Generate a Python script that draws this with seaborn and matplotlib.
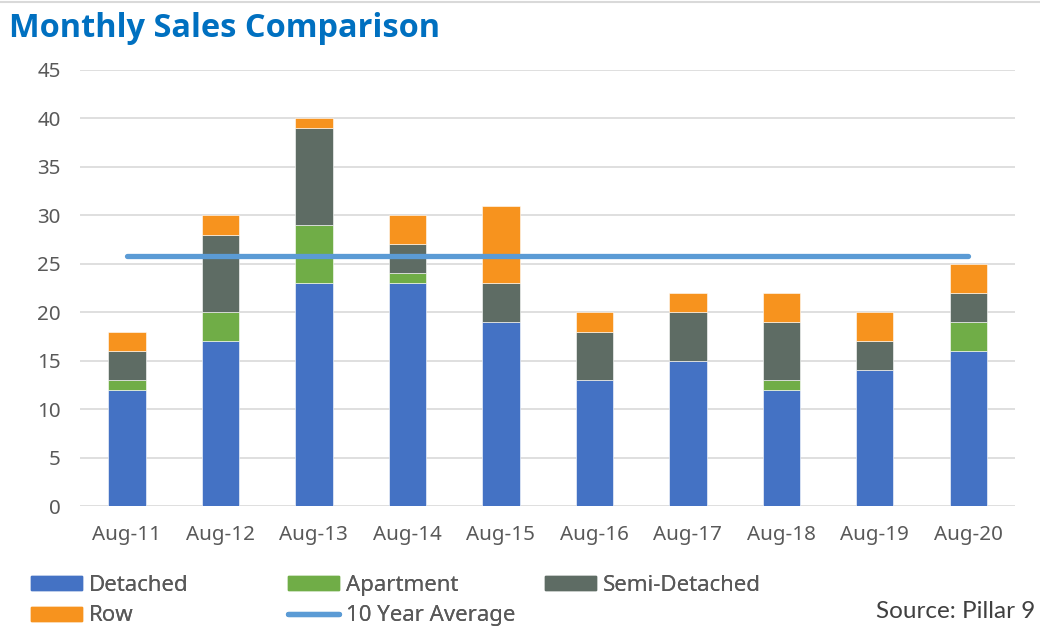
import matplotlib
matplotlib.use("Agg")
import matplotlib.pyplot as plt
import seaborn as sns
import numpy as np
import pandas as pd
from matplotlib.patches import Patch
from matplotlib.lines import Line2D

categories = ["Aug-11", "Aug-12", "Aug-13", "Aug-14", "Aug-15",
              "Aug-16", "Aug-17", "Aug-18", "Aug-19", "Aug-20"]
detached = [12, 17, 23, 23, 19, 13, 15, 12, 14, 16]
apartment = [1, 3, 6, 1, 0, 0, 0, 1, 0, 3]
semi_detached = [3, 8, 10, 3, 4, 5, 5, 6, 3, 3]
row = [2, 2, 1, 3, 8, 2, 2, 3, 3, 3]
ten_year_average = 25.8
yticks = [0, 5, 10, 15, 20, 25, 30, 35, 40, 45]

series = [("Detached", detached, "#4472C4"),
          ("Apartment", apartment, "#70AD47"),
          ("Semi-Detached", semi_detached, "#5E6C64"),
          ("Row", row, "#F7931E")]
avg_color = "#5B9BD5"
avg_label = "10 Year Average"

sns.set_theme(style="white")
plt.rcParams['font.family'] = ['Noto Sans', 'DejaVu Sans']

fig = plt.figure(figsize=(10.4, 6.35), dpi=100)
ax = fig.add_axes([0.077, 0.203, 0.899, 0.687])

bottom = np.zeros(len(categories))
for name, vals, col in series:
    df = pd.DataFrame({"cat": categories, "val": vals})
    sns.barplot(data=df, x="cat", y="val", bottom=bottom, color=col,
                width=0.4, ax=ax, edgecolor="white", linewidth=0.4,
                saturation=1, zorder=3)
    bottom = bottom + np.array(vals)

xpos = np.arange(len(categories))
ax.plot(xpos, [ten_year_average] * len(categories), color=avg_color,
        lw=3.8, solid_capstyle="round", zorder=4)

ax.set_xlim(-0.5, len(categories) - 0.5)
ax.set_ylim(0, 45)
ax.set_yticks(yticks)
ax.set_yticklabels([str(t) for t in yticks])
ax.grid(axis="y", color="#D9D9D9", lw=1.2, zorder=0)
ax.set_axisbelow(True)
for s in ax.spines.values():
    s.set_visible(False)
ax.tick_params(axis="both", length=0, labelsize=14.8, colors="#595959")
ax.tick_params(axis="y", pad=14)
ax.tick_params(axis="x", pad=13.5)
ax.set_xlabel("")
ax.set_ylabel("")

fig.text(0.009, 0.955, "Monthly Sales Comparison", color="#0070C0",
         fontsize=23.4, fontweight="bold", family=["Open Sans", "DejaVu Sans"],
         va="center", ha="left")

patches = {n: Patch(color=c) for n, _, c in series}
avg_handle = Line2D([0], [0], color=avg_color, lw=3.8, solid_capstyle="round")
columns = [
    (0.030, [(patches["Detached"], "Detached"), (patches["Row"], "Row")]),
    (0.277, [(patches["Apartment"], "Apartment"), (avg_handle, avg_label)]),
    (0.524, [(patches["Semi-Detached"], "Semi-Detached")]),
]
for xanchor, items in columns:
    leg = fig.legend([h for h, _ in items], [l for _, l in items], ncol=1,
                     loc="upper left", bbox_to_anchor=(xanchor, 0.095),
                     frameon=False, fontsize=16, handlelength=2.3,
                     handleheight=0.6, handletextpad=0.3, labelspacing=0.44,
                     borderaxespad=0, borderpad=0)
    for t in leg.get_texts():
        t.set_color("#595959")
    fig.add_artist(leg)

fig.text(0.995, 0.037, "Source: Pillar 9", ha="right", va="center",
         fontsize=17.5, color="#404040", family=["Lato", "DejaVu Sans"])

fig.add_artist(Line2D([0, 1], [0.997, 0.997], color="#D9D9D9", lw=1.5,
                      transform=fig.transFigure))

fig.savefig("out.png", dpi=100)
